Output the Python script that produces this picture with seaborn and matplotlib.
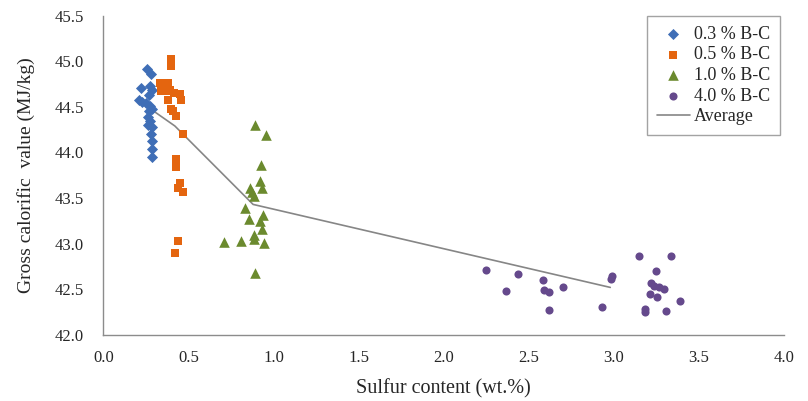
import numpy as np
import pandas as pd
import seaborn as sns
import matplotlib.pyplot as plt

# values
blue_x = [0.254, 0.281, 0.219, 0.273, 0.285, 0.270, 0.209, 0.228, 0.248, 0.273,
          0.287, 0.270, 0.262, 0.273, 0.262, 0.287, 0.281, 0.283, 0.283, 0.283]
blue_y = [44.91, 44.86, 44.71, 44.73, 44.68, 44.63, 44.58, 44.55, 44.54, 44.51,
          44.48, 44.45, 44.39, 44.34, 44.30, 44.28, 44.20, 44.12, 44.04, 43.95]

orange_x = [0.398, 0.398, 0.330, 0.379, 0.340, 0.365, 0.394, 0.414, 0.449, 0.379, 0.457,
            0.398, 0.410, 0.428, 0.465, 0.424, 0.424, 0.453, 0.437, 0.469, 0.437, 0.422]
orange_y = [45.02, 44.95, 44.76, 44.76, 44.67, 44.67, 44.68, 44.65, 44.64, 44.58, 44.58,
            44.48, 44.45, 44.40, 44.20, 43.93, 43.84, 43.66, 43.61, 43.57, 43.03, 42.90]

green_x = [0.889, 0.953, 0.926, 0.922, 0.932, 0.863, 0.873, 0.883, 0.834, 0.853,
           0.941, 0.922, 0.932, 0.883, 0.883, 0.707, 0.809, 0.947, 0.889]
green_y = [44.30, 44.19, 43.86, 43.69, 43.61, 43.61, 43.57, 43.52, 43.39, 43.27,
           43.31, 43.25, 43.16, 43.09, 43.05, 43.02, 43.03, 43.01, 42.68]

purple_x = [2.247, 2.440, 2.583, 2.368, 2.593, 2.618, 2.704, 2.993, 2.984, 2.618, 2.931, 3.150,
            3.335, 3.247, 3.218, 3.237, 3.267, 3.296, 3.212, 3.253, 3.390, 3.185, 3.185, 3.310]
purple_y = [42.71, 42.67, 42.60, 42.48, 42.49, 42.47, 42.52, 42.65, 42.61, 42.27, 42.31, 42.86,
            42.86, 42.70, 42.57, 42.53, 42.52, 42.50, 42.45, 42.42, 42.37, 42.28, 42.25, 42.26]

avg_x = [0.29, 0.42, 0.88, 2.98]
avg_y = [44.46, 44.29, 43.43, 42.52]

labels = ["0.3 % B-C", "0.5 % B-C", "1.0 % B-C", "4.0 % B-C"]


def main():
    sns.set_style("white")
    plt.rcParams["font.family"] = ["Liberation Serif", "DejaVu Serif"]

    groups = [
        (blue_x, blue_y, "#3F6EB6", "D", 32),
        (orange_x, orange_y, "#E4650F", "s", 38),
        (green_x, green_y, "#6B8A2E", "^", 58),
        (purple_x, purple_y, "#65498C", "o", 34),
    ]

    fig, ax = plt.subplots(figsize=(8.08, 4.01), dpi=100)
    fig.subplots_adjust(left=0.128, right=0.970, top=0.961, bottom=0.165)

    for (xs, ys, col, mk, sz), lab in zip(groups, labels):
        df = pd.DataFrame({"x": xs, "y": ys})
        sns.scatterplot(data=df, x="x", y="y", ax=ax, color=col, marker=mk,
                        s=sz, linewidth=0, label=lab, zorder=3)

    avg = pd.DataFrame({"x": avg_x, "y": avg_y})
    sns.lineplot(data=avg, x="x", y="y", ax=ax, color="#868686", linewidth=1.2,
                 label="Average", sort=False, zorder=2)

    ax.set_xlim(0, 4.0)
    ax.set_ylim(42.0, 45.5)
    ax.set_xticks(np.arange(0, 4.01, 0.5))
    ax.set_yticks(np.arange(42.0, 45.51, 0.5))
    ax.set_xticklabels([f"{v:.1f}" for v in np.arange(0, 4.01, 0.5)])
    ax.set_yticklabels([f"{v:.1f}" for v in np.arange(42.0, 45.51, 0.5)])

    for side in ["top", "right"]:
        ax.spines[side].set_visible(False)
    for side in ["left", "bottom"]:
        ax.spines[side].set_color("#8C8C8C")
        ax.spines[side].set_linewidth(1.0)
    ax.tick_params(axis="both", direction="out", length=4, width=1.0,
                   color="#8C8C8C", labelsize=12)
    ax.tick_params(axis="y", pad=10)
    ax.tick_params(axis="x", pad=7)

    ax.set_xlabel("Sulfur content (wt.%)", fontsize=14.5, labelpad=9)
    ax.set_ylabel("Gross calorific  value (MJ/kg)", fontsize=14, labelpad=14)

    leg = ax.legend(loc="upper right", bbox_to_anchor=(0.995, 0.999), fontsize=13,
                    frameon=True, fancybox=False, borderaxespad=0, handlelength=1.8,
                    labelspacing=0.2, borderpad=0.55, handletextpad=0.25)
    leg.get_frame().set_edgecolor("#8C8C8C")
    leg.get_frame().set_linewidth(1.0)

    fig.savefig("out.png", dpi=100)


if __name__ == "__main__":
    main()
